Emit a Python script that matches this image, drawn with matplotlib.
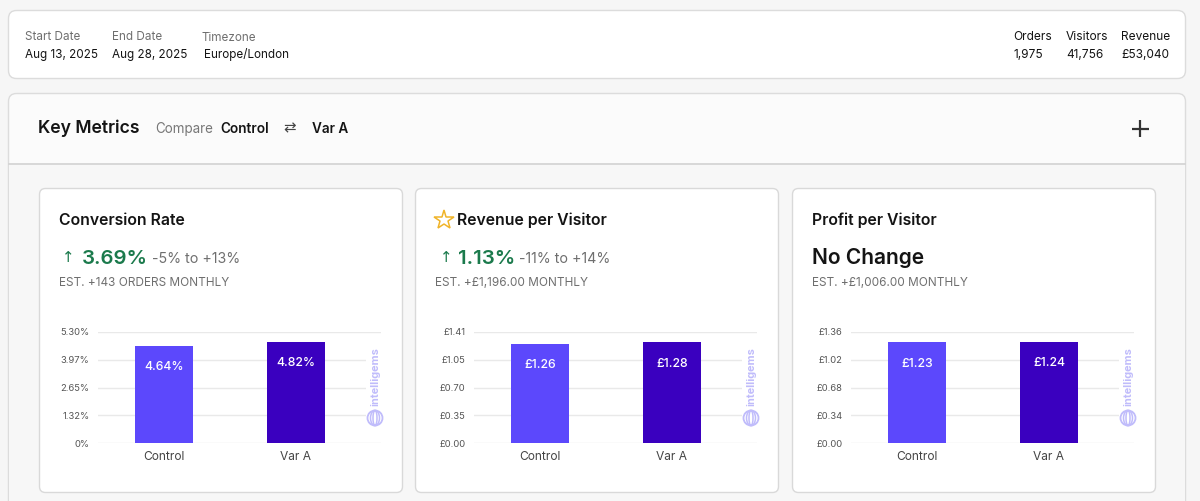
import matplotlib
matplotlib.use("Agg")
import matplotlib.pyplot as plt
from matplotlib.patches import FancyBboxPatch, Circle, Ellipse, Rectangle

plt.rcParams['font.family'] = ['Inter', 'DejaVu Sans']

W, H = 1200, 501

# ---------------- data ----------------
summary_labels = ["Start Date", "End Date", "Timezone"]
summary_values = ["Aug 13, 2025", "Aug 28, 2025", "Europe/London"]
totals_labels = ["Orders", "Visitors", "Revenue"]
totals_values = ["1,975", "41,756", "£53,040"]

categories = ["Control", "Var A"]
metric_titles = ["Conversion Rate", "Revenue per Visitor", "Profit per Visitor"]
lift_values = ["3.69%", "1.13%", None]
lift_ranges = ["-5% to +13%", "-11% to +14%", None]
estimates = ["EST. +143 ORDERS MONTHLY", "EST. +£1,196.00 MONTHLY", "EST. +£1,006.00 MONTHLY"]

cr_values = [4.64, 4.82]
rpv_values = [1.26, 1.28]
ppv_values = [1.23, 1.24]
cr_labels = ["4.64%", "4.82%"]
rpv_labels = ["£1.26", "£1.28"]
ppv_labels = ["£1.23", "£1.24"]

cr_ticks = [0, 1.325, 2.65, 3.975, 5.30]
cr_ticklabels = ["0%", "1.32%", "2.65%", "3.97%", "5.30%"]
rpv_ticks = [0, 0.3525, 0.705, 1.0575, 1.41]
rpv_ticklabels = ["£0.00", "£0.35", "£0.70", "£1.05", "£1.41"]
ppv_ticks = [0, 0.34, 0.68, 1.02, 1.36]
ppv_ticklabels = ["£0.00", "£0.34", "£0.68", "£1.02", "£1.36"]

series_values = [cr_values, rpv_values, ppv_values]
series_labels = [cr_labels, rpv_labels, ppv_labels]
series_ticks = [cr_ticks, rpv_ticks, ppv_ticks]
series_ticklabels = [cr_ticklabels, rpv_ticklabels, ppv_ticklabels]

# ---------------- style ----------------
BAR_COLORS = ["#5c48fc", "#3a00bf"]
GREEN = "#1b7a4c"
GRAY = "#6f6f6f"
DARK = "#141414"
LAVENDER = "#c0bcfb"

def pt(px):
    return px / (100 / 72)

fig = plt.figure(figsize=(W / 100, H / 100), dpi=100)
fig.patch.set_facecolor("#f6f6f6")

bg = fig.add_axes([0, 0, 1, 1])
bg.set_xlim(0, W)
bg.set_ylim(H, 0)
bg.axis("off")

def rbox(ax, x, y, w, h, r, fc, ec, lw=1.0, z=1):
    p = FancyBboxPatch((x, y), w, h, boxstyle=f"round,pad=0,rounding_size={r}",
                       fc=fc, ec=ec, lw=lw, zorder=z)
    ax.add_patch(p)

# top summary box
rbox(bg, 8.5, 10.5, 1177, 68, 8, "white", "#dcdcdc")
sx = [25, 112, 202]
for i, (lab, val) in enumerate(zip(summary_labels, summary_values)):
    yoff = 1 if i == 2 else 0
    bg.text(sx[i], 37 + yoff, lab, fontsize=pt(11.7), color=GRAY, va="center", ha="left")
    bg.text(sx[i] + (2 if i == 2 else 0), 55 - yoff, val, fontsize=pt(11.7), color=DARK,
            va="center", ha="left")
tx = [1013, 1066, 1121]
for i, (lab, val) in enumerate(zip(totals_labels, totals_values)):
    bg.text(tx[i], 37, lab, fontsize=pt(11.9), color=DARK, va="center", ha="left")
    bg.text(tx[i], 55, val, fontsize=pt(11.9), color=DARK, va="center", ha="left")

# main panel
rbox(bg, 8.5, 93.5, 1177, 440, 8, "#fbfbfb", "#dcdcdc")
bg.add_patch(Rectangle((9, 163.5), 1176, 360, fc="#f7f7f7", ec="none", zorder=1.5))
bg.plot([9, 1185], [163.5, 163.5], color="#d2d2d2", lw=1.2, zorder=2)

bg.text(38, 128, "Key Metrics", fontsize=pt(17.6), color=DARK, va="center", ha="left",
        fontweight="semibold", zorder=3)
bg.text(155, 129, "Compare", fontsize=pt(13.4), color="#777777", va="center", ha="left", zorder=3)
bg.text(220, 129, "Control", fontsize=pt(13.6), color=DARK, va="center", ha="left",
        fontweight="semibold", zorder=3)
bg.text(290, 128, "⇄", fontsize=pt(15), color="#444444", va="center", ha="center",
        family=["DejaVu Sans"], zorder=3)
bg.text(312, 129, "Var A", fontsize=pt(13.6), color=DARK, va="center", ha="left",
        fontweight="semibold", zorder=3)
bg.plot([1140, 1140], [120, 137], color="#333333", lw=1.6, zorder=3, solid_capstyle="butt")
bg.plot([1131.5, 1148.5], [128.5, 128.5], color="#333333", lw=1.6, zorder=3, solid_capstyle="butt")

# cards
card_x = [39, 415, 792]
for i, cx in enumerate(card_x):
    rbox(bg, cx + 0.5, 188.5, 363, 304, 6, "white", "#d9d9d9", z=3)
    tx0 = cx + 20
    if i == 1:
        bg.plot(cx + 29, 219.5, marker="*", ms=15, mfc="none", mec="#f0b429", mew=1.1, zorder=4)
        tx0 = cx + 42
    bg.text(tx0, 220.5, metric_titles[i], fontsize=pt(15.8), color=DARK, va="center", ha="left",
            fontweight="semibold", zorder=4)
    if lift_values[i] is not None:
        ax0 = cx + 23 if i == 0 else cx + 25
        bg.text(ax0, 258, "↑", fontsize=pt(15), color=GREEN, va="center", ha="left",
                family=["DejaVu Sans"], zorder=4)
        bg.text(ax0 + 20 - (2 if i == 1 else 0), 258.5, lift_values[i], fontsize=pt(20.5),
                color=GREEN, va="center", ha="left", fontweight="semibold", zorder=4)
        rx = [152, 519][i]
        bg.text(rx, 259, lift_ranges[i], fontsize=pt(14.2), color=GRAY, va="center", ha="left",
                zorder=4)
    else:
        bg.text(cx + 20, 258.5, "No Change", fontsize=pt(21), color=DARK, va="center",
                ha="left", fontweight="semibold", zorder=4)
    bg.text(cx + 20, 283.5, estimates[i], fontsize=pt(11.8), color=GRAY, va="center",
            ha="left", zorder=4)

# charts
x_pos = [0, 1]
for i, cx in enumerate(card_x):
    dx = cx - 39
    left = 98 + dx
    top, bottom = 331.7, 443.3
    ax = fig.add_axes([left / W, 1 - bottom / H, 283 / W, (bottom - top) / H])
    ax.set_facecolor("none")
    ax.set_zorder(5)
    ticks = series_ticks[i]
    ax.set_ylim(0, ticks[-1])
    ax.set_xlim(-0.5, 1.644)
    ax.set_yticks(ticks)
    ax.set_yticklabels(series_ticklabels[i])
    ax.set_xticks(x_pos)
    ax.set_xticklabels(categories)
    ax.tick_params(axis="y", length=0, pad=6.3, labelsize=pt(9.4), labelcolor="#555555")
    ax.tick_params(axis="x", length=0, pad=5.5, labelsize=pt(12), labelcolor="#444444")
    for s in ax.spines.values():
        s.set_visible(False)
    ax.grid(axis="y", color="#e9e9e9", lw=1.0)
    ax.set_axisbelow(True)
    ax.bar(x_pos, series_values[i], width=0.443, color=BAR_COLORS, zorder=3)
    for xp, v, lab in zip(x_pos, series_values[i], series_labels[i]):
        ax.annotate(lab, (xp, v), xytext=(0, -15.5), textcoords="offset points", ha="center",
                    va="center", color="white", fontsize=pt(12.3), fontweight="medium", zorder=4)

# watermark overlay
ov = fig.add_axes([0, 0, 1, 1])
ov.set_xlim(0, W)
ov.set_ylim(H, 0)
ov.axis("off")
ov.set_zorder(10)
ov.patch.set_alpha(0)
for cx in card_x:
    dx = cx - 39
    wx = 375 + dx
    ov.add_patch(Rectangle((wx - 9, 346), 18, 84, fc="white", ec="none"))
    ov.text(wx, 377, "intelligems", rotation=90, fontsize=pt(11), color=LAVENDER,
            ha="center", va="center", fontweight="bold")
    ov.add_patch(Circle((wx, 418), 7.5, fc="none", ec=LAVENDER, lw=1.3))
    ov.add_patch(Ellipse((wx, 418), 9, 15, fc="none", ec=LAVENDER, lw=1.1))
    ov.add_patch(Ellipse((wx, 418), 4, 15, fc="none", ec=LAVENDER, lw=1.1))

fig.savefig("out.png", dpi=100, facecolor=fig.get_facecolor())
